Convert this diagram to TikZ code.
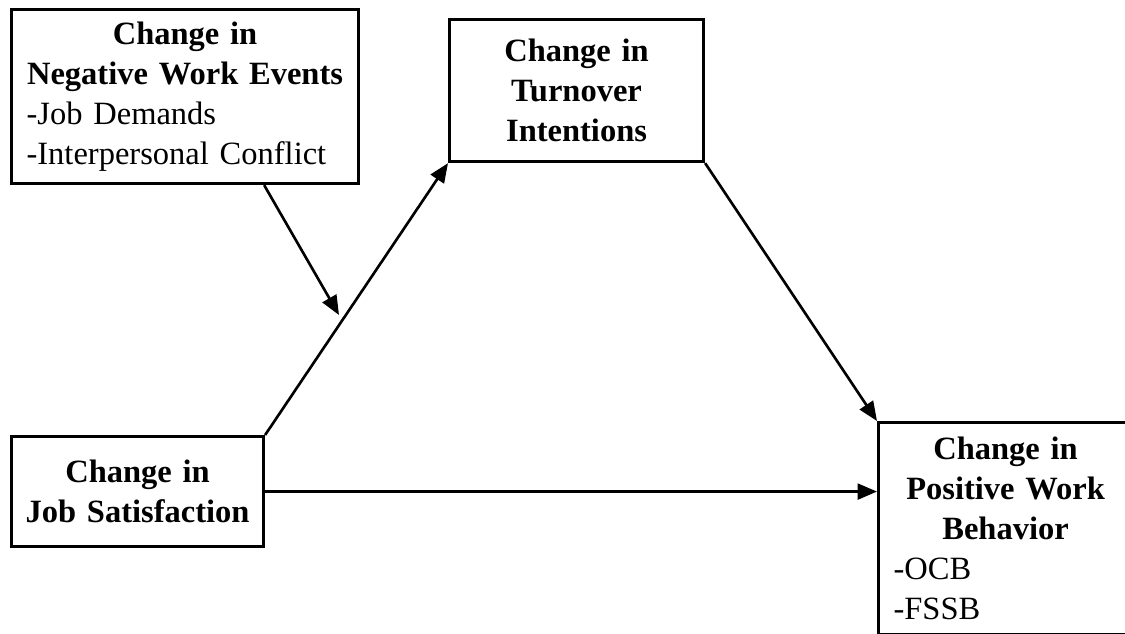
\documentclass[tikz,border=0pt]{standalone}
\usepackage{fontspec}
\setmainfont{Liberation Serif}
\usetikzlibrary{arrows.meta,calc}
\setlength{\parindent}{0pt}
\hyphenpenalty=10000

\tikzset{
  box/.style={draw, line width=1.8pt, anchor=north west, inner xsep=0.3cm, inner ysep=0pt,
    font=\fontsize{18.5}{22.8}\selectfont},
  link/.style={line width=1.5pt, -{Triangle[length=11pt,width=9pt]}}
}

\begin{document}
\begin{tikzpicture}[x=0.02cm,y=-0.02cm]
\useasboundingbox (0,0) rectangle (1125,633);

\node [box, align=left, text width=6.34cm, minimum height=3.48cm] (negev) at (10,8)
  {{\centering\bfseries Change in\\Negative Work Events\par}-Job Demands\\-Interpersonal Conflict};
\node [box, align=center, text width=4.48cm, minimum height=2.84cm] (turnover) at (448,18)
  {\bfseries Change in\\Turnover\\Intentions};
\node [box, align=center, inner xsep=0.1cm, text width=4.84cm, minimum height=2.2cm] (jobsat) at (10,435)
  {\bfseries Change in\\Job Satisfaction};
\node [box, align=left, text width=4.48cm, minimum height=4.24cm] (posbeh) at (877,421)
  {{\centering\bfseries Change in\\Positive Work\\Behavior\par}-OCB\\-FSSB};

\coordinate (modtip) at (339,315);

\draw [link] (jobsat.north east) -- (turnover.south west);
\draw [link] (turnover.south east) -- (posbeh.north west);
\draw [link] (jobsat.east) -- (jobsat.east -| posbeh.west);
\draw [link] ($(negev.south west)!0.726!(negev.south east)$) -- (modtip);

\end{tikzpicture}
\end{document}
